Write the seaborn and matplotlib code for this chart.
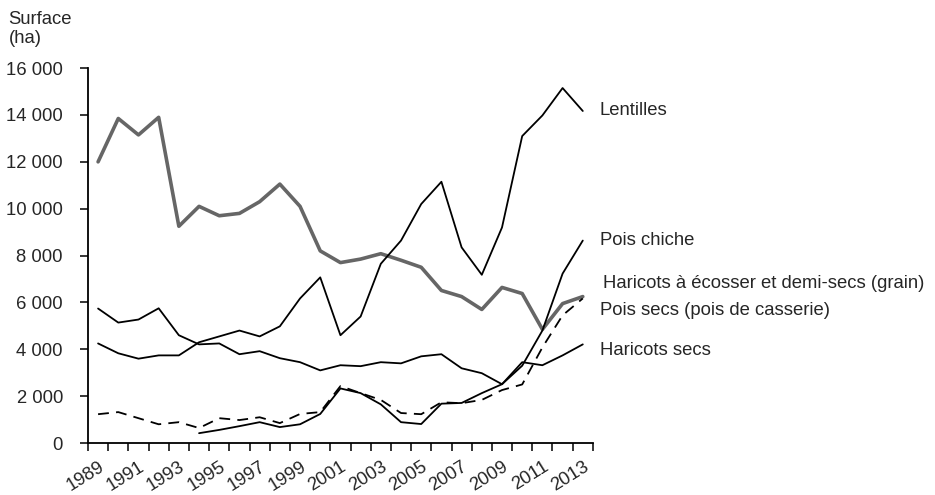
import matplotlib
matplotlib.use("Agg")
import matplotlib.pyplot as plt
import matplotlib.ticker as mticker
import seaborn as sns

# years 1989-2013
years = list(range(1989, 2014))

lentilles = [4250, 3830, 3600, 3740, 3740, 4300, 4550, 4800, 4550, 4980,
             6170, 7070, 4600, 5400, 7650, 8640, 10200, 11150, 8350, 7180,
             9200, 13100, 13980, 15150, 14170]
haricots_secs = [5740, 5140, 5270, 5750, 4600, 4210, 4250, 3790, 3920, 3620,
                 3450, 3100, 3320, 3280, 3450, 3400, 3700, 3790, 3190, 2980,
                 2510, 3450, 3320, 3740, 4210]
pois_secs = [12000, 13850, 13150, 13900, 9250, 10100, 9700, 9800, 10300, 11050,
             10100, 8200, 7700, 7850, 8080, 7800, 7500, 6510, 6250, 5700,
             6640, 6380, 4850, 5950, 6250]
haricots_ecosser = [1230, 1320, 1060, 800, 890, 640, 1060, 980, 1100, 850,
                    1240, 1320, 2430, 2130, 1840, 1280, 1230, 1740, 1700, 1840,
                    2260, 2500, 4080, 5450, 6170]
# pois chiche only from 1994
years_chiche = list(range(1994, 2014))
pois_chiche = [420, 560, 720, 890, 680, 800, 1240, 2330, 2130, 1650,
               890, 810, 1680, 1710, 2130, 2510, 3300, 4800, 7230, 8640]

labels = ["Lentilles", "Pois chiche", "Haricots à écosser et demi-secs (grain)",
          "Pois secs (pois de casserie)", "Haricots secs"]
label_y = [14170, 8640, 6800, 5660, 3960]
label_x = [2013.85, 2013.85, 2014.0, 2013.85, 2013.85]

FS = 13.3

sns.set_style("white")
plt.rcParams["font.family"] = ["Liberation Sans", "DejaVu Sans"]

fig = plt.figure(figsize=(9.35, 4.95), dpi=100)
ax = fig.add_axes([0.0941, 0.105, 0.54, 0.7574])

sns.lineplot(x=years, y=pois_secs, color="#666666", linewidth=2.6, ax=ax)
sns.lineplot(x=years, y=lentilles, color="black", linewidth=1.3, ax=ax)
sns.lineplot(x=years, y=haricots_secs, color="black", linewidth=1.3, ax=ax)
sns.lineplot(x=years_chiche, y=pois_chiche, color="black", linewidth=1.3, ax=ax)
sns.lineplot(x=years, y=haricots_ecosser, color="black", linewidth=1.3,
             linestyle=(0, (6, 4)), ax=ax)

ax.set_xlim(1988.5, 2013.5)
ax.set_ylim(0, 16000)

ax.set_yticks(range(0, 16001, 2000))
ax.yaxis.set_major_formatter(
    mticker.FuncFormatter(lambda v, p: f"{int(v):,}".replace(",", " ")))

ax.set_xticks(years[::2])
ax.set_xticklabels([str(y) for y in years[::2]], rotation=32, ha="right",
                   rotation_mode="anchor")
ax.set_xticks([y - 0.5 for y in years] + [2013.5], minor=True)
ax.tick_params(axis="x", which="major", length=0, pad=11, labelsize=FS)
ax.tick_params(axis="x", which="minor", length=6, width=1.3, direction="out",
               bottom=True)
ax.tick_params(axis="y", length=6, width=1.3, direction="out", left=True,
               labelsize=FS, pad=12)

sns.despine(ax=ax)
for s in ["left", "bottom"]:
    ax.spines[s].set_linewidth(1.3)
    ax.spines[s].set_color("black")

ax.set_xlabel("")
ax.set_ylabel("")

for txt, lx, ly in zip(labels, label_x, label_y):
    ax.text(lx, ly, txt, fontsize=FS, va="center", ha="left", clip_on=False)

fig.text(0.009, 0.978, "Surface\n(ha)", fontsize=FS, va="top", ha="left",
         linespacing=1.2)

plt.savefig("out.png", dpi=100)
plt.close()
